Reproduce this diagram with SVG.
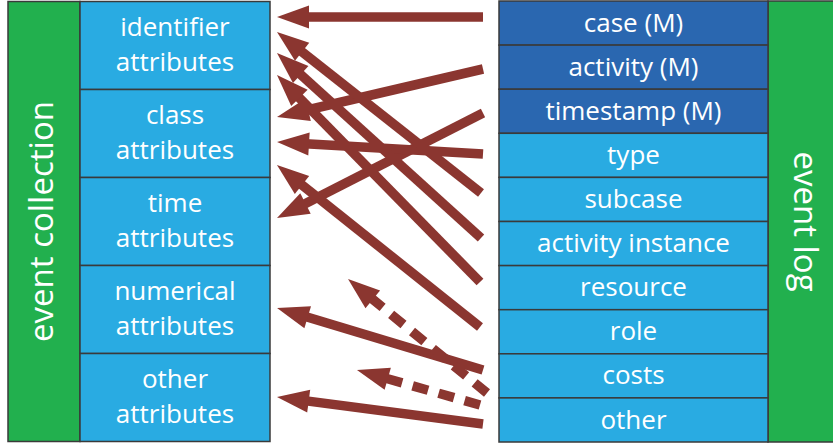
<svg xmlns="http://www.w3.org/2000/svg" width="833" height="444" viewBox="0 0 833 444">
  <style>
    .box { stroke: #3a3a3a; stroke-width: 1.5; }
    .green { fill: #22b04e; }
    .light { fill: #29abe2; }
    .dark { fill: #2a67b0; }
    .lbl { font-family: "Open Sans", "Liberation Sans", sans-serif; font-size: 26px; fill: #ffffff; text-anchor: middle; }
    .side { font-family: "Open Sans", "Liberation Sans", sans-serif; font-size: 33px; fill: #ffffff; text-anchor: middle; }
    .link { fill: none; stroke: #8b3630; stroke-width: 9.5; stroke-linecap: butt; marker-end: url(#head); }
    .dash { stroke-dasharray: 16 11; }
  </style>
  <defs>
    <marker id="head" markerUnits="userSpaceOnUse" markerWidth="40" markerHeight="30" refX="0" refY="0" viewBox="-14 -15 40 30" orient="auto" overflow="visible">
      <path d="M-12,-11.5 L20,0 L-12,11.5 Z" fill="#8b3630"/>
    </marker>
  </defs>

  <rect x="0" y="0" width="833" height="444" fill="#ffffff"/>

  <!-- event collection (left) -->
  <g id="event-collection">
    <rect class="box green" x="8" y="1.5" width="72" height="440"/>
    <text class="side" transform="translate(53,221.5) rotate(-90)" x="0" y="0">event collection</text>
  </g>
  <g id="identifier-attributes">
    <rect class="box light" x="80" y="1.5" width="190" height="88"/>
    <text class="lbl" x="175" y="35.5">identifier</text>
    <text class="lbl" x="175" y="71.2">attributes</text>
  </g>
  <g id="class-attributes">
    <rect class="box light" x="80" y="89.5" width="190" height="88"/>
    <text class="lbl" x="175" y="123.5">class</text>
    <text class="lbl" x="175" y="159.2">attributes</text>
  </g>
  <g id="time-attributes">
    <rect class="box light" x="80" y="177.5" width="190" height="88"/>
    <text class="lbl" x="175" y="211.5">time</text>
    <text class="lbl" x="175" y="247.2">attributes</text>
  </g>
  <g id="numerical-attributes">
    <rect class="box light" x="80" y="265.5" width="190" height="88"/>
    <text class="lbl" x="175" y="299.5">numerical</text>
    <text class="lbl" x="175" y="335.2">attributes</text>
  </g>
  <g id="other-attributes">
    <rect class="box light" x="80" y="353.5" width="190" height="88"/>
    <text class="lbl" x="175" y="387.5">other</text>
    <text class="lbl" x="175" y="423.2">attributes</text>
  </g>

  <!-- event log (right) -->
  <g id="event-log">
    <rect class="box green" x="768" y="1" width="72" height="441"/>
    <text class="side" transform="translate(794,221.5) rotate(90)" x="0" y="0">event log</text>
  </g>
  <g id="case">
    <rect class="box dark" x="499" y="1" width="269" height="44.1"/>
    <text class="lbl" x="633.5" y="31.5">case (M)</text>
  </g>
  <g id="activity">
    <rect class="box dark" x="499" y="45.1" width="269" height="44.1"/>
    <text class="lbl" x="633.5" y="75.6">activity (M)</text>
  </g>
  <g id="timestamp">
    <rect class="box dark" x="499" y="89.2" width="269" height="44.1"/>
    <text class="lbl" x="633.5" y="119.7">timestamp (M)</text>
  </g>
  <g id="type">
    <rect class="box light" x="499" y="133.3" width="269" height="44.1"/>
    <text class="lbl" x="633.5" y="163.9">type</text>
  </g>
  <g id="subcase">
    <rect class="box light" x="499" y="177.4" width="269" height="44.1"/>
    <text class="lbl" x="633.5" y="208">subcase</text>
  </g>
  <g id="activity-instance">
    <rect class="box light" x="499" y="221.5" width="269" height="44.1"/>
    <text class="lbl" x="633.5" y="252">activity instance</text>
  </g>
  <g id="resource">
    <rect class="box light" x="499" y="265.6" width="269" height="44.1"/>
    <text class="lbl" x="633.5" y="296.2">resource</text>
  </g>
  <g id="role">
    <rect class="box light" x="499" y="309.7" width="269" height="44.1"/>
    <text class="lbl" x="633.5" y="340.3">role</text>
  </g>
  <g id="costs">
    <rect class="box light" x="499" y="353.8" width="269" height="44.1"/>
    <text class="lbl" x="633.5" y="384.4">costs</text>
  </g>
  <g id="other">
    <rect class="box light" x="499" y="397.9" width="269" height="44.1"/>
    <text class="lbl" x="633.5" y="428.5">other</text>
  </g>

  <!-- mappings from event log attributes to event collection attributes -->
  <g id="connectors">
    <path class="link" d="M483,17 L297,17"/>
    <path class="link" d="M483,69 L296.5,112.5"/>
    <path class="link" d="M483,113 L294.8,208.9"/>
    <path class="link" d="M483,154 L297,143.2"/>
    <path class="link" d="M481,193 L292.7,44.4"/>
    <path class="link" d="M481,238 L291.8,66.4"/>
    <path class="link" d="M480,282 L291,89.3"/>
    <path class="link" d="M480,327 L292.6,177.5"/>
    <path class="link" d="M483,370 L296.2,313.8"/>
    <path class="link" d="M483,424 L296.8,399.6"/>
    <path class="link dash" d="M487,393 L363.5,291.7"/>
    <path class="link dash" d="M480,405 L376.2,375.5"/>
  </g>
</svg>
